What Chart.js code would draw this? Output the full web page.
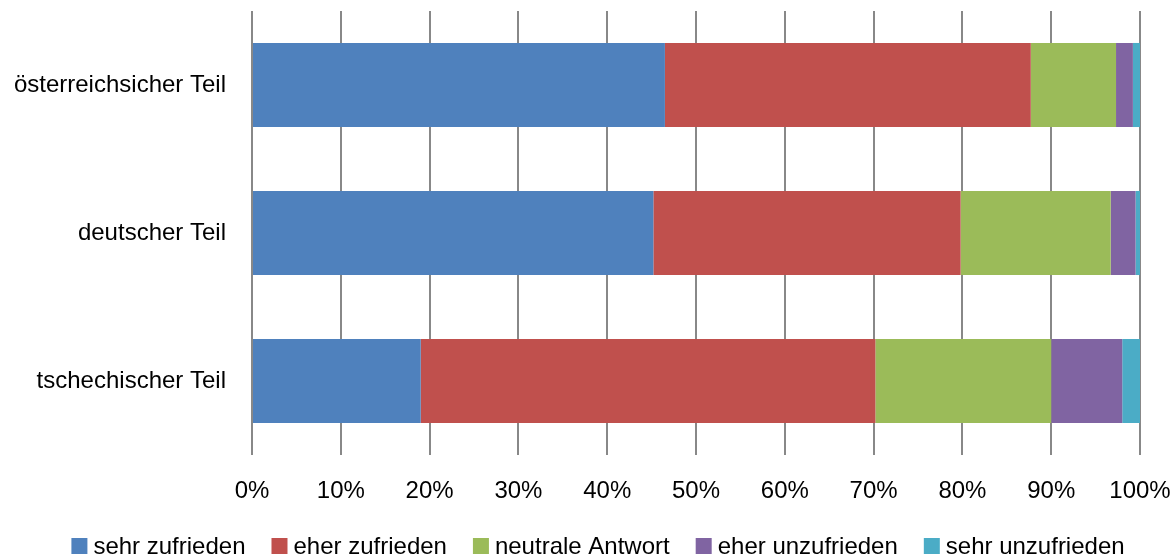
<!DOCTYPE html>
<html>
<head>
<meta charset="utf-8">
<title>Zufriedenheit</title>
<script src="https://cdn.jsdelivr.net/npm/chart.js@4/dist/chart.umd.min.js"></script>
<style>
  body { margin: 0; background: #ffffff; }
  .base-graf { width: 1176px; height: 558px; }
</style>
</head>
<body>
<div class="base-graf"><canvas id="graficaTeile" width="1176" height="558"></canvas></div>
<script>
/* DATOS */
const teile = ['österreichsicher Teil', 'deutscher Teil', 'tschechischer Teil'];
const sehrZufrieden = [46.5, 45.2, 19.0];
const eherZufrieden = [41.2, 34.6, 51.2];
const neutraleAntwort = [9.6, 16.9, 19.8];
const eherUnzufrieden = [1.9, 2.8, 8.0];
const sehrUnzufrieden = [0.8, 0.5, 2.0];
const serienNamen = ['sehr zufrieden', 'eher zufrieden', 'neutrale Antwort', 'eher unzufrieden', 'sehr unzufrieden'];
const xTicks = [0, 10, 20, 30, 40, 50, 60, 70, 80, 90, 100];

let colores = ['#4F81BD', '#C0504D', '#9BBB59', '#8064A2', '#4BACC6'];
let fuente = "'Liberation Sans', Arial, sans-serif";

/* LEYENDA propia, mismo estilo que el original */
const leyendaAbajo = {
  id: 'leyendaAbajo',
  afterDraw(chart) {
    const ctx = chart.ctx;
    ctx.save();
    ctx.font = '24px ' + fuente;
    ctx.textBaseline = 'middle';
    const caja = 16, hueco = 6, sep = 26;
    const items = chart.data.datasets.map(ds => ({
      texto: ds.label,
      color: ds.backgroundColor,
      ancho: caja + hueco + ctx.measureText(ds.label).width
    }));
    let total = items.reduce((s, it) => s + it.ancho, 0) + sep * (items.length - 1);
    let x = 598 - total / 2;
    const y = 546;
    items.forEach(it => {
      ctx.fillStyle = it.color;
      ctx.fillRect(x, y - caja / 2, caja, caja);
      ctx.fillStyle = '#000000';
      ctx.fillText(it.texto, x + caja + hueco, y + 1);
      x += it.ancho + sep;
    });
    ctx.restore();
  }
};

/* sin relleno extra de las etiquetas en los bordes */
function sinPadding(scale) {
  scale.paddingTop = 0;
  scale.paddingBottom = 0;
  scale.paddingLeft = 0;
  scale.paddingRight = 0;
}

const series = [sehrZufrieden, eherZufrieden, neutraleAntwort, eherUnzufrieden, sehrUnzufrieden];

const grafica = document.querySelector('#graficaTeile').getContext('2d');

new Chart(grafica, {
  type: 'bar',
  data: {
    labels: teile,
    datasets: series.map((valores, i) => ({
      label: serienNamen[i],
      data: valores,
      backgroundColor: colores[i],
      borderWidth: 0,
      categoryPercentage: 1,
      barPercentage: 0.568
    }))
  },
  options: {
    indexAxis: 'y',
    responsive: false,
    animation: false,
    devicePixelRatio: 1,
    layout: { padding: { left: 0, right: 36, top: 11, bottom: 0 } },
    plugins: {
      legend: { display: false },
      tooltip: { enabled: false }
    },
    scales: {
      x: {
        stacked: true,
        min: 0,
        max: 100,
        afterBuildTicks: scale => { scale.ticks = xTicks.map(v => ({ value: v })); },
        afterFit: scale => { scale.height = 103; sinPadding(scale); },
        grid: { color: '#888888', lineWidth: 2, drawTicks: false },
        border: { display: false },
        ticks: {
          padding: 22,
          maxRotation: 0,
          color: '#000000',
          font: { size: 24, family: fuente },
          callback: v => v + '%'
        }
      },
      y: {
        stacked: true,
        afterFit: scale => { scale.width = 252; sinPadding(scale); },
        grid: { display: false, drawTicks: false },
        border: { display: false },
        ticks: {
          padding: 26,
          color: '#000000',
          font: { size: 24, family: fuente }
        }
      }
    }
  },
  plugins: [leyendaAbajo]
});
</script>
</body>
</html>
